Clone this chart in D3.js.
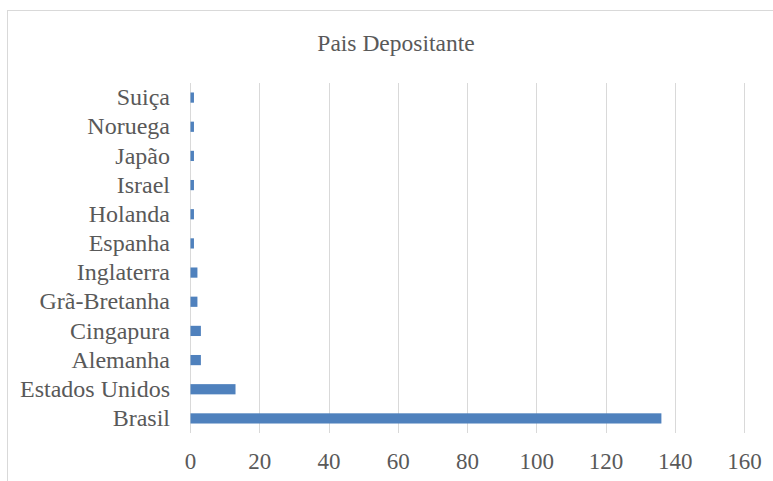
<!DOCTYPE html>
<html>
<head>
<meta charset="utf-8">
<script src="https://cdn.jsdelivr.net/npm/d3@7"></script>
</head>
<body style="margin:0">
<svg id="chart" width="773" height="481"></svg>
<script>
const categories = ["Suiça", "Noruega", "Japão", "Israel", "Holanda", "Espanha", "Inglaterra", "Grã-Bretanha", "Cingapura", "Alemanha", "Estados Unidos", "Brasil"];
const values = [1, 1, 1, 1, 1, 1, 2, 2, 3, 3, 13, 136];
const xTicks = [0, 20, 40, 60, 80, 100, 120, 140, 160];
const title = "Pais Depositante";

const svg = d3.select("#chart");
const textColor = "#595959";

function styleText(sel, size) {
  sel.style("font-family", '"Liberation Serif"')
     .style("font-size", size + "px")
     .attr("fill", textColor);
}

// frame
svg.append("rect")
  .attr("x", 7.5).attr("y", 10.5)
  .attr("width", 800).attr("height", 500)
  .attr("fill", "#fff").attr("stroke", "#d9d9d9").attr("stroke-width", 1);

const plotLeft = 190, plotRight = 744, plotTop = 83, plotBottom = 433;

const x = d3.scaleLinear().domain([0, 160]).range([plotLeft, plotRight]);
const y = d3.scaleBand().domain(categories).range([plotTop, plotBottom]).paddingInner(0.65).paddingOuter(0.325);

// gridlines
svg.append("g").selectAll("line").data(xTicks).join("line")
  .attr("x1", d => Math.round(x(d)) + 0.5).attr("x2", d => Math.round(x(d)) + 0.5)
  .attr("y1", plotTop).attr("y2", plotBottom)
  .attr("stroke", "#d9d9d9").attr("stroke-width", 1);

// x axis tick labels
const xAxis = d3.axisBottom(x).tickValues(xTicks).tickSize(0).tickPadding(0);
const gx = svg.append("g").attr("transform", `translate(0, ${plotBottom})`).call(xAxis);
gx.select(".domain").remove();
gx.attr("font-family", null).attr("font-size", null);
gx.selectAll("text").attr("dy", null).attr("y", 36);
styleText(gx.selectAll("text"), 23);

// y axis labels
const yAxis = d3.axisLeft(y).tickSize(0).tickPadding(20);
const gy = svg.append("g").attr("transform", `translate(${plotLeft}, 0)`).call(yAxis);
gy.select(".domain").remove();
gy.attr("font-family", null).attr("font-size", null);
styleText(gy.selectAll("text"), 24);

// bars
svg.append("g").selectAll("rect").data(categories).join("rect")
  .attr("x", x(0) + 0.5)
  .attr("y", d => y(d))
  .attr("width", (d, i) => x(values[i]) - x(0))
  .attr("height", y.bandwidth())
  .attr("fill", "#4f81bd");

// title
const t = svg.append("text")
  .attr("x", 396).attr("y", 51)
  .attr("text-anchor", "middle")
  .text(title);
styleText(t, 23.5);
</script>
</body>
</html>
